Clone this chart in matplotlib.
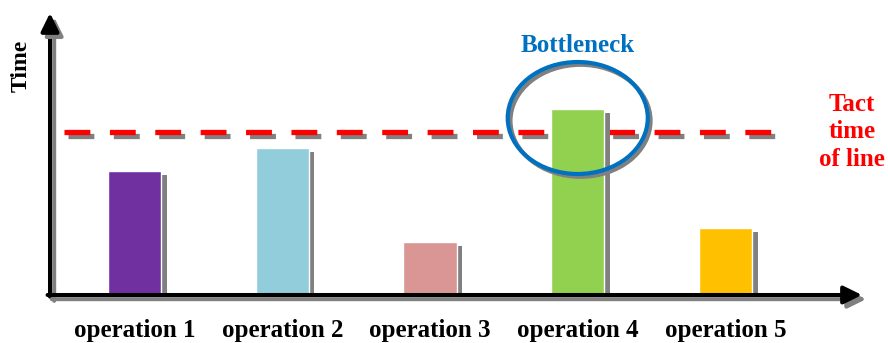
import matplotlib
matplotlib.use('Agg')
import matplotlib.pyplot as plt
import matplotlib.patheffects as pe
from matplotlib.patches import Ellipse

operations = ['operation 1', 'operation 2', 'operation 3', 'operation 4', 'operation 5']
times = [12.4, 14.7, 5.3, 18.6, 6.7]
tact_time = 16.3
colors = ['#7030A0', '#92CDDC', '#D99694', '#92D050', '#FFC000']

plt.rcParams['font.family'] = ['Liberation Serif', 'DejaVu Serif']
plt.rcParams['font.weight'] = 'bold'

fig = plt.figure(figsize=(8.88, 3.43), dpi=100)
ax = fig.add_axes([50 / 888, 48 / 343, 812 / 888, 282 / 343])
ax.set_xlim(-0.572, 4.924)
ax.set_ylim(0, 28.2)
for s in ax.spines.values():
    s.set_visible(False)

shadow = [pe.SimplePatchShadow(offset=(4, -3), shadow_rgbFace='#808080', alpha=1), pe.Normal()]
x = list(range(len(operations)))
bars = ax.bar(x, times, width=0.359, color=colors, edgecolor='white', linewidth=1, zorder=3)
for b in bars:
    b.set_path_effects(shadow)

# tact time dashed line
ax.axhline(tact_time, xmin=0.017, xmax=0.889, color='#FF0000', lw=3.8,
           dashes=(4.9, 3.7), dash_capstyle='butt', zorder=2,
           path_effects=[pe.SimpleLineShadow(offset=(3, -3), shadow_color='#808080', alpha=1), pe.Normal()])

# axes with arrows
arr_fx = [pe.SimpleLineShadow(offset=(3, -3), shadow_color='#808080', alpha=1),
          pe.SimplePatchShadow(offset=(3, -3), shadow_rgbFace='#808080', alpha=1), pe.Normal()]
aprops = dict(arrowstyle='-|>,head_length=0.55,head_width=0.27', lw=2.9, color='black',
              mutation_scale=20, shrinkA=0, shrinkB=0)
a1 = ax.annotate('', xy=(0, 1), xytext=(0, -0.006), xycoords='axes fraction',
                 arrowprops=aprops, zorder=5, annotation_clip=False)
a2 = ax.annotate('', xy=(1, 0), xytext=(-0.003, 0), xycoords='axes fraction',
                 arrowprops=aprops, zorder=5, annotation_clip=False)
a1.arrow_patch.set_path_effects(arr_fx)
a2.arrow_patch.set_path_effects(arr_fx)

# bottleneck marker
i_max = times.index(max(times))
ell = Ellipse((i_max, 17.7), 0.948, 11.2, fill=False, edgecolor='#0070C0', lw=3, zorder=4,
              path_effects=[pe.SimpleLineShadow(offset=(2, -2), shadow_color='#808080', alpha=1), pe.Normal()])
ax.add_patch(ell)
ax.text(i_max, 25.0, 'Bottleneck', color='#0070C0', fontsize=18, fontweight='bold',
        ha='center', va='center')

ax.text(4.856, tact_time, 'Tact\ntime\nof line', color='#FF0000', fontsize=18,
        fontweight='bold', ha='center', va='center', linespacing=1.25, clip_on=False)

fig.text(21 / 888, 1 - 66 / 343, 'Time', rotation=90, fontsize=17, fontweight='bold',
         ha='center', va='center')

ax.set_xticks(x, operations, fontsize=18, fontweight='bold')
ax.tick_params(axis='x', length=0, pad=17)
ax.set_yticks([])

fig.savefig('out.png', dpi=100)
